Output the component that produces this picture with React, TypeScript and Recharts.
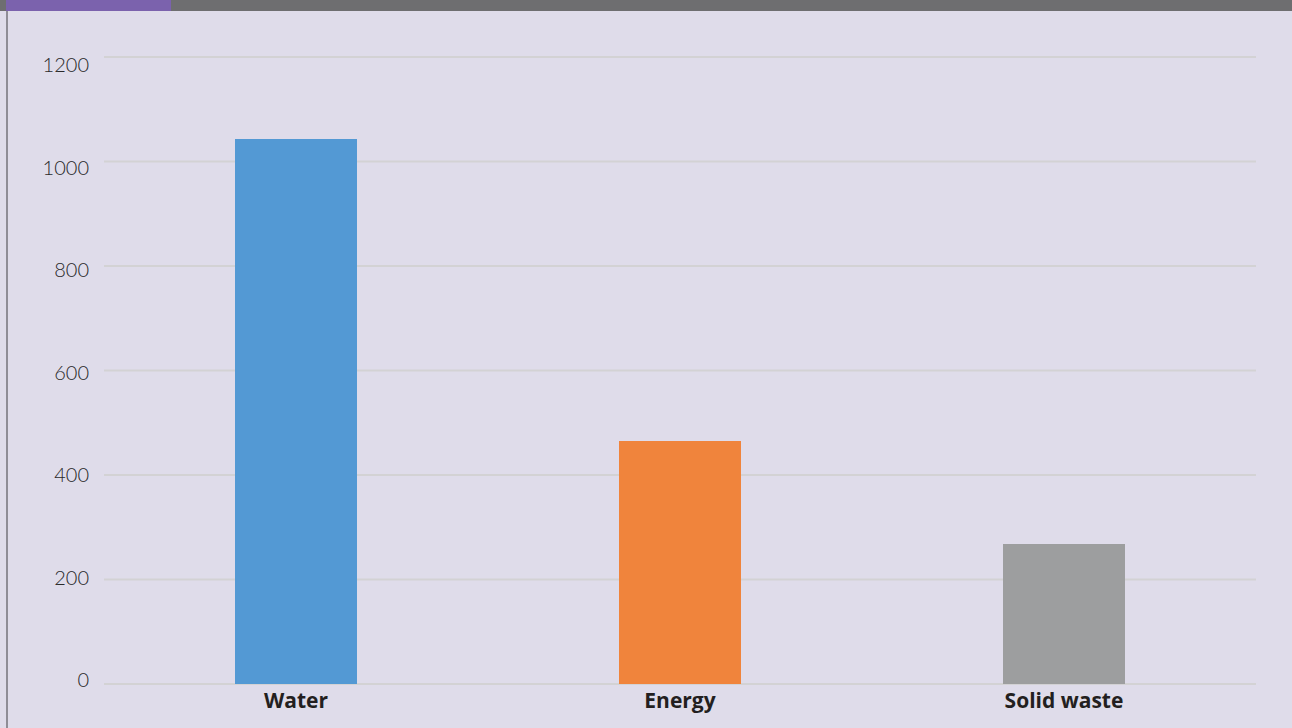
import { BarChart, Bar, XAxis, YAxis, CartesianGrid, Cell } from "recharts";

const categories = ["Water", "Energy", "Solid waste"];
const values = [1043, 465, 268];
const yTicks = [0, 200, 400, 600, 800, 1000, 1200];

const COLORS = [
  "#5399d4", // blue
  "#f0843c", // orange
  "#9d9e9f", // gray
];

const data = categories.map((name, i) => ({ name, value: values[i] }));

// y labels in the reference sit a bit off their gridlines (lower at top, higher at bottom)
function YTick(props: any) {
  const { x, y, payload } = props;
  const shift = -4 + payload.value / 100;
  return (
    <text
      x={x}
      y={y + shift}
      dy="0.355em"
      textAnchor="end"
      fill="#2a2a2a"
      fontSize={20}
      fontFamily="Lato, 'Open Sans', sans-serif"
      fontWeight={300}
    >
      {payload.value}
    </text>
  );
}

export default function App() {
  return (
    <div
      style={{
        position: "absolute",
        left: 0,
        top: 0,
        width: 1292,
        height: 728,
        background: "#dfdcea",
        overflow: "hidden",
      }}
    >
      <div style={{ position: "absolute", left: 6, top: 0, width: 2, height: 728, background: "#8f8d96" }} />
      <div style={{ position: "absolute", left: 0, top: 0, width: 1292, height: 11, background: "#6e6e70" }} />
      <div style={{ position: "absolute", left: 6, top: 0, width: 165, height: 11, background: "#7b62ad" }} />
      <div style={{ position: "absolute", left: 0, top: 0 }}>
        <BarChart
          width={1292}
          height={728}
          data={data}
          margin={{ top: 57, right: 36, left: 14, bottom: 4 }}
          barCategoryGap={131}
        >
          <CartesianGrid vertical={false} stroke="#d3d2d4" strokeWidth={2} />
          <XAxis
            dataKey="name"
            axisLine={false}
            tickLine={false}
            tickSize={0}
            tickMargin={9}
            height={40}
            interval={0}
            tick={{ fill: "#231f20", fontSize: 21, fontWeight: 700, fontFamily: "'Open Sans', sans-serif" }}
          />
          <YAxis
            domain={[0, 1200]}
            ticks={yTicks}
            axisLine={false}
            tickLine={false}
            tickSize={0}
            tickMargin={15}
            width={90}
            tick={<YTick />}
          />
          <Bar dataKey="value" isAnimationActive={false}>
            {data.map((entry, index) => (
              <Cell key={`cell-${index}`} fill={COLORS[index % COLORS.length]} />
            ))}
          </Bar>
        </BarChart>
      </div>
    </div>
  );
}
